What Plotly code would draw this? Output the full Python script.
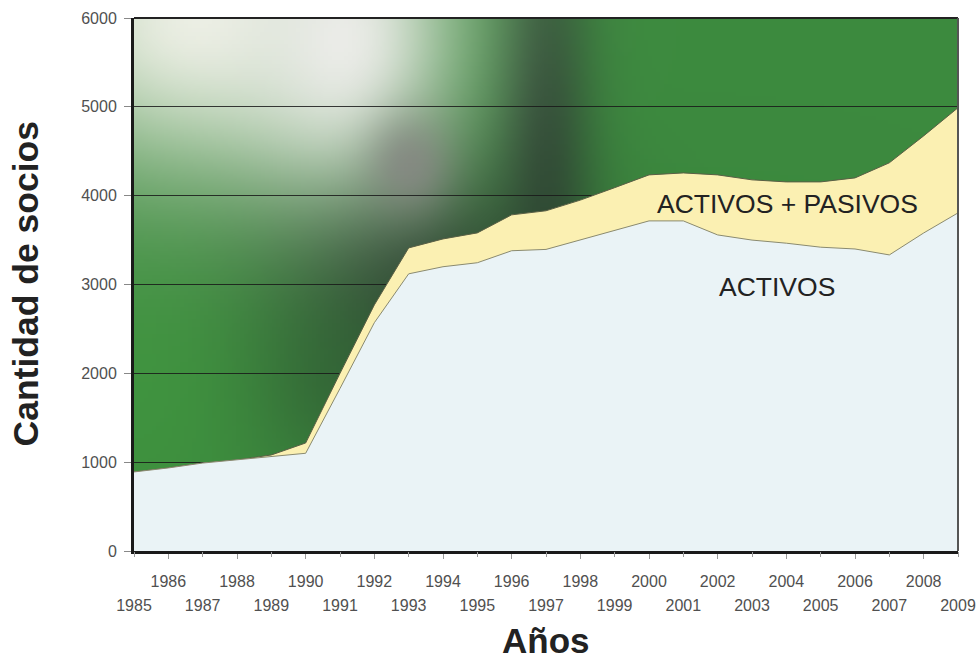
import base64, struct, zlib
import numpy as np
import plotly.graph_objects as go

# ---------------- data ----------------
years = list(range(1985, 2010))
activos = [890, 935, 990, 1025, 1058, 1100, 1830, 2570, 3120, 3200, 3245, 3380, 3395,
           3500, 3610, 3716, 3716, 3558, 3500, 3465, 3420, 3400, 3333, 3580, 3806]
total = [890, 935, 990, 1025, 1081, 1216, 2000, 2770, 3412, 3513, 3581, 3784, 3830,
         3950, 4090, 4234, 4256, 4234, 4178, 4155, 4155, 4200, 4370, 4673, 4990]
even_years = [y for y in years if y % 2 == 0]
odd_years = [y for y in years if y % 2 == 1]
y_ticks = [0, 1000, 2000, 3000, 4000, 5000, 6000]
label_total = "ACTIVOS + PASIVOS"
label_activos = "ACTIVOS"
x_title = "Años"
y_title = "Cantidad de socios"

# ---------------- background gradient (decorative image) ----------------
PW, PH = 824, 533
W, H = 206, 134
xs = (np.arange(W) + 0.5) * PW / W
ys = (np.arange(H) + 0.5) * PH / H
X, Y = np.meshgrid(xs, ys)
img = np.zeros((H, W, 3), dtype=float)
img[:] = (60, 138, 62)

def layer(cx, cy, sx, sy, col, a):
    global img
    w = a * np.exp(-(((X - cx) ** 2) / (2 * sx ** 2) + ((Y - cy) ** 2) / (2 * sy ** 2)))
    img = img * (1 - w[..., None]) + np.array(col, dtype=float) * w[..., None]

layer(411, 132, 35, 200, (45, 72, 50), 0.95)
layer(286, 262, 110, 90, (42, 62, 46), 0.9)
layer(196, 362, 70, 70, (45, 85, 50), 0.6)
layer(16, 362, 110, 110, (66, 156, 64), 0.55)
layer(66, 0, 150, 115, (236, 239, 228), 1.0)
layer(206, 22, 70, 95, (235, 236, 232), 1.0)
layer(276, 147, 30, 35, (135, 136, 132), 0.85)

arr = np.clip(img, 0, 255).astype(np.uint8)

def chunk(t, d):
    return struct.pack('>I', len(d)) + t + d + struct.pack('>I', zlib.crc32(t + d) & 0xffffffff)

raw = b''.join(b'\x00' + arr[j].tobytes() for j in range(H))
png = (b'\x89PNG\r\n\x1a\n'
       + chunk(b'IHDR', struct.pack('>IIBBBBB', W, H, 8, 2, 0, 0, 0))
       + chunk(b'IDAT', zlib.compress(raw, 9))
       + chunk(b'IEND', b''))
bg_uri = 'data:image/png;base64,' + base64.b64encode(png).decode()

# ---------------- figure ----------------
FONT = "Liberation Sans, Arial, sans-serif"
fig = go.Figure()
fig.add_trace(go.Scatter(x=years, y=total, mode='lines', fill='tozeroy',
                         fillcolor='#fbf0b2', line=dict(color='#5a5f45', width=1),
                         hoverinfo='skip'))
fig.add_trace(go.Scatter(x=years, y=activos, mode='lines', fill='tozeroy',
                         fillcolor='#eaf3f6', line=dict(color='#8a8a70', width=1),
                         hoverinfo='skip'))
fig.add_trace(go.Scatter(x=years, y=activos, mode='none', xaxis='x2',
                         hoverinfo='skip', showlegend=False))

fig.add_layout_image(dict(source=bg_uri, xref='paper', yref='paper', x=0, y=1,
                          sizex=1, sizey=1, sizing='stretch', layer='below',
                          xanchor='left', yanchor='top'))

tickfont = dict(family=FONT, size=16, color='#505050')
fig.update_layout(
    width=977, height=662,
    margin=dict(l=134, r=19, t=18, b=111, autoexpand=False),
    paper_bgcolor='white', plot_bgcolor='rgb(60,138,62)',
    showlegend=False,
    xaxis=dict(range=[1985, 2009], tickvals=even_years,
               ticktext=[str(v) for v in even_years],
               ticks='outside', ticklen=5, tickcolor='#999999',
               tickfont=tickfont, showgrid=False, zeroline=False,
               showline=True, linewidth=3, linecolor='#1a1a1a',
               ticklabelstandoff=9, automargin=False),
    xaxis2=dict(range=[1985, 2009], overlaying='x', anchor='y', side='bottom',
                tickvals=odd_years, ticktext=[str(v) for v in odd_years],
                ticks='outside', ticklen=5, tickcolor='#999999',
                tickfont=tickfont, showgrid=False, zeroline=False,
                showline=False, ticklabelstandoff=35, automargin=False),
    yaxis=dict(range=[0, 6000], tickvals=y_ticks,
               ticktext=[str(v) for v in y_ticks],
               ticks='outside', ticklen=7, tickcolor='#888888',
               tickfont=tickfont, showgrid=True,
               gridcolor='rgba(25,25,25,0.85)', gridwidth=1, zeroline=False,
               showline=True, linewidth=3, linecolor='#1a1a1a',
               ticklabelstandoff=4, automargin=False),
    shapes=[
        dict(type='line', xref='paper', yref='paper', x0=0, x1=1, y0=1, y1=1,
             line=dict(color='#222222', width=2)),
        dict(type='line', xref='paper', yref='paper', x0=1, x1=1, y0=0, y1=1,
             line=dict(color='#555555', width=2)),
    ],
    annotations=[
        dict(x=2004.04, y=3906, xref='x', yref='y', text=label_total, showarrow=False,
             font=dict(family=FONT, size=26.5, color='#222222')),
        dict(x=2003.72, y=2972, xref='x', yref='y', text=label_activos, showarrow=False,
             font=dict(family=FONT, size=26.5, color='#222222')),
        dict(x=0.5, y=-(641 - 551) / 533, xref='paper', yref='paper',
             text='<b>' + x_title + '</b>', showarrow=False, yanchor='middle',
             font=dict(family=FONT, size=35, color='#222222')),
        dict(x=-(134 - 25) / 824, y=0.5, xref='paper', yref='paper',
             text='<b>' + y_title + '</b>', showarrow=False, textangle=-90,
             xanchor='center', yanchor='middle',
             font=dict(family=FONT, size=35.5, color='#222222')),
    ],
)

# remove the default page margin so the figure fills the window exactly
fig.write_html("out.html", config={'displayModeBar': False},
               post_script="document.body.style.margin='0';document.body.style.overflow='hidden';")
